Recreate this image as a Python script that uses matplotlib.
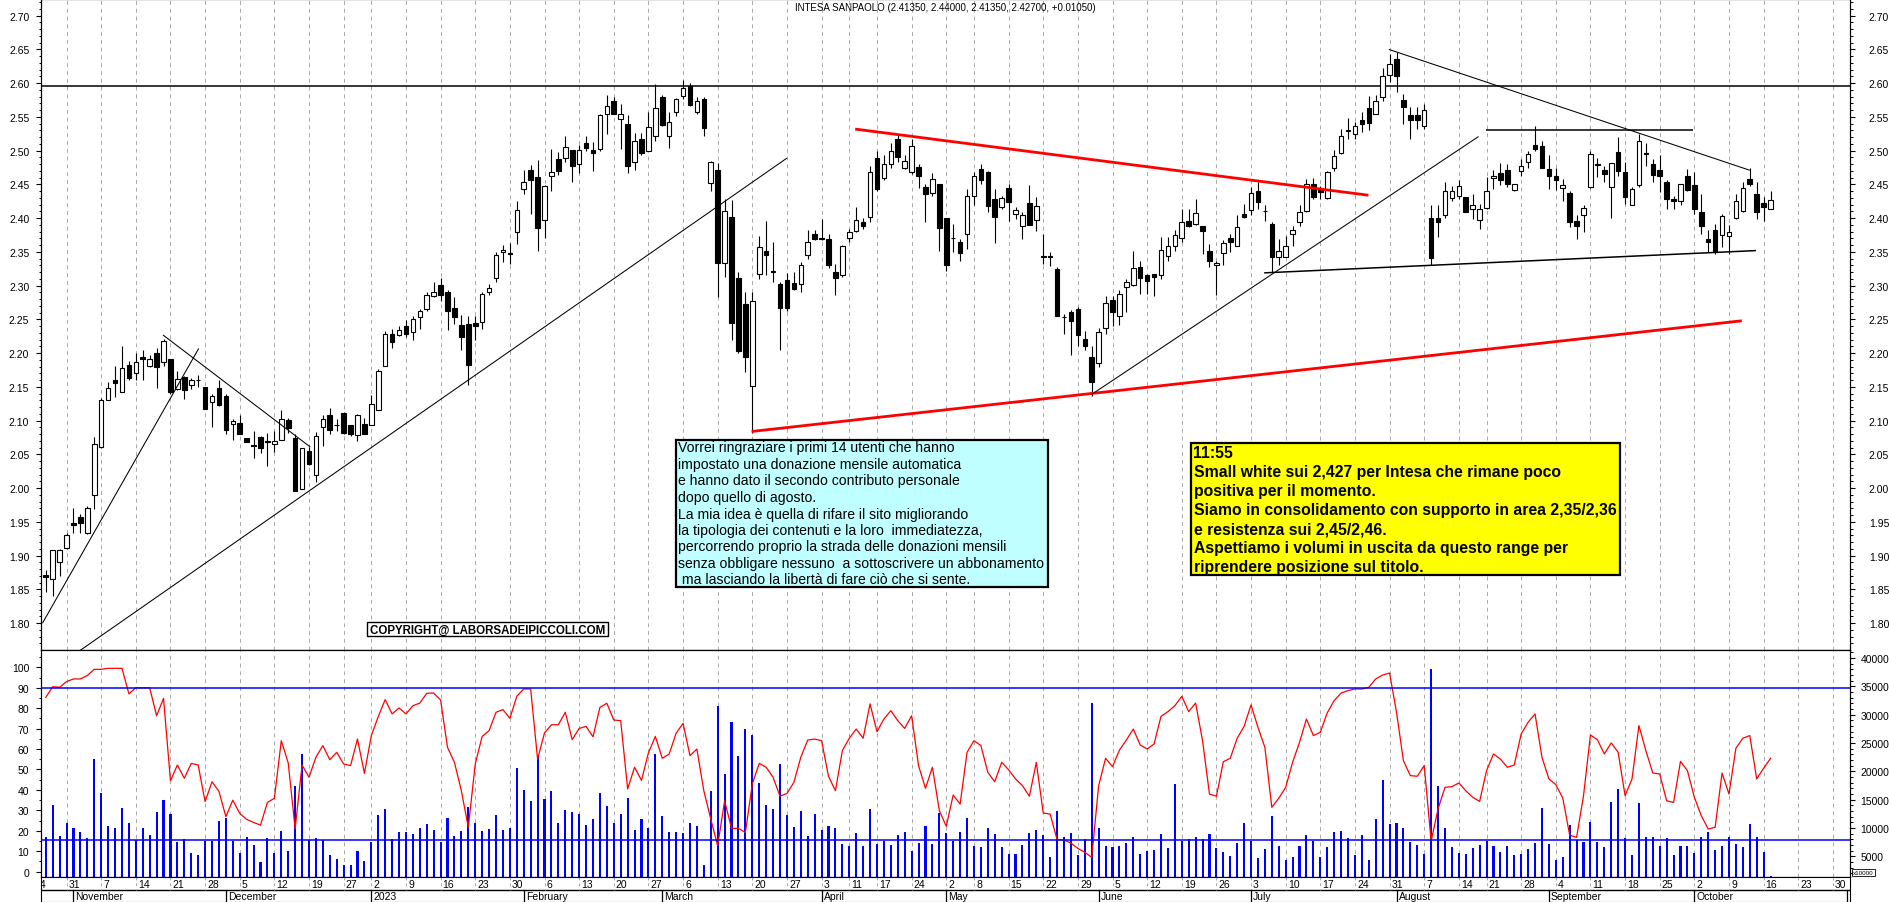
import matplotlib
matplotlib.use("Agg")
import matplotlib.pyplot as plt
import numpy as np
import pandas as pd
from matplotlib.patches import Rectangle
from matplotlib.ticker import FormatStrFormatter, MultipleLocator

plt.rcParams["font.family"] = ["Liberation Sans", "DejaVu Sans"]

# trading calendar of the chart (Borsa Italiana)
AXIS_START = "2022-10-24"
AXIS_END = "2023-11-10"
MARKET_HOLIDAYS = ["2022-12-26", "2023-04-07", "2023-04-10", "2023-05-01", "2023-08-15"]
FIRST_CANDLE = "2022-10-26"

OPEN = [
    1.871, 1.865, 1.891, 1.912, 1.948, 1.958, 1.933, 1.990, 2.061, 2.131,
    2.161, 2.143, 2.183, 2.171, 2.195, 2.181, 2.201, 2.187, 2.192, 2.147,
    2.165, 2.153, 2.161, 2.150, 2.128, 2.148, 2.137, 2.095, 2.097, 2.075,
    2.064, 2.076, 2.070, 2.066, 2.072, 2.101, 2.075, 1.999, 2.055, 2.020,
    2.090, 2.109, 2.094, 2.111, 2.093, 2.079, 2.095, 2.093, 2.116, 2.181,
    2.228, 2.227, 2.240, 2.231, 2.253, 2.266, 2.285, 2.301, 2.290, 2.267,
    2.242, 2.243, 2.245, 2.246, 2.291, 2.311, 2.350, 2.347, 2.379, 2.443,
    2.471, 2.461, 2.397, 2.462, 2.488, 2.489, 2.501, 2.480, 2.511, 2.501,
    2.502, 2.555, 2.573, 2.547, 2.540, 2.483, 2.518, 2.500, 2.522, 2.579,
    2.522, 2.557, 2.581, 2.596, 2.557, 2.577, 2.452, 2.472, 2.333, 2.402,
    2.311, 2.273, 2.152, 2.317, 2.351, 2.322, 2.303, 2.308, 2.304, 2.302,
    2.345, 2.377, 2.370, 2.369, 2.320, 2.316, 2.371, 2.381, 2.395, 2.402,
    2.489, 2.460, 2.480, 2.518, 2.474, 2.469, 2.476, 2.446, 2.437, 2.450,
    2.400, 2.371, 2.364, 2.376, 2.433, 2.473, 2.469, 2.428, 2.416, 2.445,
    2.406, 2.388, 2.4225, 2.397, 2.344, 2.344, 2.325, 2.254, 2.261, 2.265,
    2.221, 2.194, 2.185, 2.237, 2.279, 2.255, 2.298, 2.301, 2.328, 2.316,
    2.317, 2.316, 2.344, 2.359, 2.371, 2.396, 2.392, 2.389, 2.351, 2.330,
    2.349, 2.371, 2.359, 2.406, 2.412, 2.440, 2.411, 2.391, 2.342, 2.342,
    2.377, 2.394, 2.411, 2.451, 2.444, 2.430, 2.475, 2.496, 2.529, 2.525,
    2.545, 2.563, 2.555, 2.580, 2.612, 2.636, 2.575, 2.553, 2.553, 2.537,
    2.401, 2.401, 2.404, 2.430, 2.433, 2.431, 2.413, 2.397, 2.415, 2.459,
    2.467, 2.472, 2.442, 2.470, 2.483, 2.508, 2.507, 2.473, 2.462, 2.444,
    2.437, 2.396, 2.405, 2.446, 2.480, 2.472, 2.446, 2.498, 2.468, 2.420,
    2.449, 2.497, 2.480, 2.471, 2.453, 2.429, 2.426, 2.463, 2.449, 2.409,
    2.369, 2.382, 2.375, 2.373, 2.401, 2.410, 2.458, 2.436, 2.422, 2.4135,
]
HIGH = [
    1.879, 1.908, 1.910, 1.934, 1.970, 1.962, 1.973, 2.076, 2.134, 2.157,
    2.181, 2.210, 2.188, 2.200, 2.205, 2.198, 2.207, 2.221, 2.192, 2.174,
    2.166, 2.163, 2.167, 2.150, 2.139, 2.160, 2.140, 2.102, 2.109, 2.075,
    2.085, 2.078, 2.082, 2.085, 2.116, 2.104, 2.080, 2.059, 2.061, 2.083,
    2.109, 2.119, 2.102, 2.113, 2.094, 2.110, 2.104, 2.138, 2.177, 2.233,
    2.236, 2.240, 2.249, 2.255, 2.266, 2.291, 2.305, 2.312, 2.293, 2.283,
    2.256, 2.255, 2.255, 2.290, 2.302, 2.350, 2.361, 2.363, 2.425, 2.471,
    2.479, 2.486, 2.449, 2.503, 2.498, 2.522, 2.501, 2.509, 2.522, 2.513,
    2.555, 2.583, 2.579, 2.569, 2.553, 2.526, 2.526, 2.558, 2.599, 2.582,
    2.557, 2.578, 2.604, 2.601, 2.579, 2.579, 2.485, 2.482, 2.429, 2.427,
    2.320, 2.290, 2.290, 2.373, 2.396, 2.365, 2.305, 2.319, 2.320, 2.335,
    2.383, 2.382, 2.399, 2.377, 2.332, 2.360, 2.384, 2.416, 2.400, 2.478,
    2.500, 2.493, 2.512, 2.525, 2.493, 2.518, 2.480, 2.451, 2.467, 2.451,
    2.400, 2.391, 2.369, 2.443, 2.468, 2.481, 2.470, 2.443, 2.433, 2.451,
    2.416, 2.409, 2.449, 2.431, 2.377, 2.350, 2.327, 2.258, 2.264, 2.268,
    2.233, 2.210, 2.238, 2.284, 2.285, 2.293, 2.310, 2.352, 2.336, 2.317,
    2.317, 2.372, 2.372, 2.383, 2.414, 2.414, 2.428, 2.389, 2.362, 2.337,
    2.367, 2.377, 2.404, 2.421, 2.446, 2.454, 2.420, 2.395, 2.369, 2.374,
    2.389, 2.419, 2.458, 2.460, 2.448, 2.470, 2.501, 2.532, 2.548, 2.543,
    2.557, 2.581, 2.582, 2.622, 2.643, 2.646, 2.584, 2.565, 2.564, 2.569,
    2.419, 2.419, 2.454, 2.448, 2.456, 2.431, 2.436, 2.421, 2.461, 2.472,
    2.482, 2.480, 2.451, 2.488, 2.500, 2.536, 2.515, 2.493, 2.475, 2.458,
    2.441, 2.404, 2.420, 2.500, 2.489, 2.478, 2.482, 2.520, 2.483, 2.446,
    2.525, 2.512, 2.488, 2.493, 2.456, 2.433, 2.451, 2.473, 2.468, 2.436,
    2.382, 2.392, 2.406, 2.390, 2.436, 2.453, 2.474, 2.453, 2.431, 2.440,
]
LOW = [
    1.846, 1.841, 1.870, 1.910, 1.934, 1.934, 1.932, 1.969, 2.060, 2.131,
    2.135, 2.143, 2.160, 2.161, 2.161, 2.179, 2.149, 2.181, 2.140, 2.146,
    2.132, 2.147, 2.150, 2.117, 2.090, 2.122, 2.080, 2.072, 2.080, 2.068,
    2.045, 2.052, 2.033, 2.054, 2.072, 2.082, 1.996, 1.999, 2.035, 2.009,
    2.062, 2.080, 2.085, 2.080, 2.077, 2.070, 2.080, 2.093, 2.116, 2.181,
    2.207, 2.225, 2.224, 2.220, 2.236, 2.263, 2.283, 2.278, 2.234, 2.243,
    2.205, 2.153, 2.220, 2.236, 2.286, 2.306, 2.335, 2.332, 2.362, 2.436,
    2.406, 2.352, 2.370, 2.440, 2.464, 2.483, 2.453, 2.467, 2.500, 2.470,
    2.500, 2.525, 2.554, 2.503, 2.467, 2.471, 2.494, 2.499, 2.515, 2.536,
    2.504, 2.552, 2.576, 2.566, 2.554, 2.522, 2.440, 2.283, 2.313, 2.220,
    2.200, 2.172, 2.082, 2.310, 2.316, 2.306, 2.205, 2.263, 2.293, 2.290,
    2.340, 2.367, 2.367, 2.326, 2.286, 2.313, 2.364, 2.379, 2.384, 2.394,
    2.441, 2.456, 2.475, 2.483, 2.473, 2.466, 2.444, 2.395, 2.433, 2.352,
    2.322, 2.350, 2.337, 2.354, 2.419, 2.451, 2.409, 2.363, 2.414, 2.396,
    2.399, 2.369, 2.390, 2.381, 2.332, 2.329, 2.255, 2.229, 2.198, 2.210,
    2.205, 2.136, 2.179, 2.228, 2.241, 2.242, 2.261, 2.299, 2.287, 2.287,
    2.285, 2.310, 2.337, 2.352, 2.364, 2.387, 2.390, 2.347, 2.327, 2.286,
    2.331, 2.350, 2.359, 2.401, 2.405, 2.414, 2.396, 2.320, 2.330, 2.342,
    2.359, 2.389, 2.409, 2.429, 2.429, 2.429, 2.470, 2.495, 2.517, 2.517,
    2.527, 2.530, 2.554, 2.574, 2.602, 2.587, 2.540, 2.517, 2.532, 2.532,
    2.331, 2.372, 2.401, 2.426, 2.428, 2.409, 2.399, 2.384, 2.414, 2.443,
    2.449, 2.446, 2.441, 2.463, 2.475, 2.500, 2.474, 2.443, 2.442, 2.426,
    2.387, 2.369, 2.379, 2.444, 2.461, 2.454, 2.401, 2.463, 2.421, 2.419,
    2.446, 2.478, 2.453, 2.439, 2.414, 2.414, 2.419, 2.441, 2.406, 2.377,
    2.350, 2.347, 2.357, 2.347, 2.399, 2.409, 2.447, 2.399, 2.396, 2.4135,
]
CLOSE = [
    1.868, 1.908, 1.908, 1.931, 1.946, 1.948, 1.970, 2.066, 2.131, 2.149,
    2.156, 2.178, 2.163, 2.187, 2.192, 2.192, 2.179, 2.218, 2.142, 2.162,
    2.146, 2.161, 2.160, 2.117, 2.136, 2.123, 2.086, 2.099, 2.080, 2.068,
    2.063, 2.060, 2.068, 2.070, 2.102, 2.089, 1.996, 2.059, 2.036, 2.077,
    2.102, 2.086, 2.093, 2.082, 2.081, 2.109, 2.080, 2.125, 2.173, 2.229,
    2.217, 2.234, 2.228, 2.250, 2.262, 2.286, 2.290, 2.286, 2.263, 2.253,
    2.224, 2.182, 2.240, 2.288, 2.297, 2.345, 2.353, 2.347, 2.412, 2.454,
    2.457, 2.385, 2.448, 2.469, 2.470, 2.505, 2.478, 2.501, 2.504, 2.497,
    2.553, 2.566, 2.555, 2.554, 2.478, 2.515, 2.497, 2.535, 2.563, 2.538,
    2.543, 2.577, 2.593, 2.567, 2.573, 2.533, 2.483, 2.333, 2.411, 2.245,
    2.203, 2.195, 2.278, 2.357, 2.345, 2.321, 2.267, 2.267, 2.295, 2.330,
    2.365, 2.369, 2.369, 2.330, 2.311, 2.359, 2.379, 2.397, 2.389, 2.469,
    2.443, 2.480, 2.499, 2.491, 2.485, 2.507, 2.463, 2.436, 2.458, 2.386,
    2.330, 2.370, 2.348, 2.433, 2.463, 2.457, 2.418, 2.402, 2.430, 2.424,
    2.412, 2.404, 2.390, 2.418, 2.342, 2.343, 2.255, 2.253, 2.247, 2.227,
    2.211, 2.158, 2.232, 2.274, 2.261, 2.288, 2.305, 2.326, 2.312, 2.307,
    2.313, 2.353, 2.359, 2.375, 2.395, 2.388, 2.407, 2.381, 2.337, 2.333,
    2.363, 2.365, 2.387, 2.402, 2.438, 2.424, 2.410, 2.342, 2.351, 2.359,
    2.382, 2.409, 2.451, 2.432, 2.439, 2.469, 2.492, 2.522, 2.531, 2.536,
    2.539, 2.541, 2.574, 2.610, 2.629, 2.610, 2.564, 2.546, 2.546, 2.560,
    2.341, 2.395, 2.440, 2.441, 2.447, 2.409, 2.420, 2.413, 2.441, 2.462,
    2.457, 2.450, 2.451, 2.478, 2.495, 2.503, 2.474, 2.462, 2.456, 2.449,
    2.394, 2.388, 2.415, 2.495, 2.479, 2.465, 2.482, 2.470, 2.431, 2.443,
    2.515, 2.495, 2.464, 2.462, 2.428, 2.425, 2.451, 2.442, 2.414, 2.388,
    2.364, 2.352, 2.403, 2.379, 2.426, 2.444, 2.450, 2.409, 2.4165, 2.427,
]
OSCILLATOR = [
    85.3, 90.5, 90.2, 93.0, 94.3, 94.3, 96.0, 99.0, 99.0, 99.5,
    99.5, 99.5, 87.0, 90.0, 90.0, 90.0, 76.3, 84.8, 44.5, 52.2,
    45.7, 53.0, 52.2, 34.3, 44.0, 39.3, 26.9, 35.0, 28.5, 25.6,
    24.1, 22.8, 33.9, 35.9, 64.1, 53.2, 21.0, 52.2, 46.2, 56.0,
    61.7, 54.8, 58.4, 52.7, 51.9, 64.9, 48.1, 66.6, 75.9, 84.2,
    77.2, 80.1, 77.2, 81.2, 82.5, 87.3, 87.4, 84.0, 60.8, 53.5,
    39.5, 21.7, 52.7, 66.2, 69.0, 78.0, 79.3, 75.0, 85.8, 89.4,
    89.4, 55.1, 67.9, 71.9, 71.9, 78.0, 64.6, 70.1, 71.1, 66.0,
    80.4, 82.4, 74.2, 73.9, 40.5, 51.1, 44.7, 58.1, 66.2, 55.5,
    57.6, 67.7, 72.6, 56.8, 60.0, 39.6, 25.8, 12.7, 34.7, 21.2,
    21.2, 19.2, 42.9, 53.0, 51.1, 46.2, 36.9, 38.3, 43.7, 56.0,
    64.4, 64.9, 64.1, 46.7, 39.6, 59.2, 65.3, 69.8, 65.3, 82.1,
    68.5, 74.7, 78.8, 73.9, 70.1, 76.3, 51.9, 40.8, 51.1, 29.9,
    22.2, 37.5, 33.1, 58.4, 64.1, 61.7, 48.6, 44.0, 53.5, 49.9,
    45.4, 42.1, 36.9, 53.5, 28.7, 28.2, 15.7, 15.5, 14.0, 11.4,
    9.5, 7.0, 42.1, 55.5, 51.4, 59.5, 64.4, 69.8, 62.0, 60.0,
    62.5, 76.0, 78.3, 81.2, 85.8, 78.3, 82.5, 64.1, 38.0, 36.9,
    53.8, 55.5, 65.3, 71.1, 81.6, 70.6, 60.8, 31.5, 35.9, 41.3,
    53.5, 63.3, 74.7, 66.6, 68.2, 77.7, 83.7, 87.4, 88.6, 89.4,
    89.4, 90.2, 94.3, 96.2, 97.2, 78.0, 54.3, 47.0, 46.7, 51.9,
    15.0, 30.7, 41.3, 41.6, 43.4, 39.6, 36.4, 34.4, 49.4, 57.6,
    55.1, 51.1, 52.2, 67.4, 73.1, 77.2, 56.0, 45.4, 42.6, 36.1,
    17.9, 16.8, 37.2, 66.9, 64.6, 57.6, 63.0, 58.4, 37.2, 45.4,
    71.5, 59.2, 48.3, 47.8, 34.7, 33.9, 54.0, 49.4, 36.4, 27.4,
    20.9, 21.7, 48.3, 38.0, 60.4, 65.3, 66.6, 45.4, 50.6, 55.5,
]
VOLUME = [
    8350, 14060, 8530, 10880, 10000, 9230, 8170, 22170, 16110, 10290,
    9940, 13470, 10880, 7820, 10000, 8760, 12760, 14880, 12470, 7530,
    8000, 5590, 5300, 7700, 7760, 11230, 11700, 7700, 5530, 8350,
    7060, 3940, 8290, 5650, 9470, 5880, 17470, 23060, 7820, 8290,
    7820, 5170, 4530, 3470, 3470, 5880, 4180, 7470, 12350, 13290,
    8060, 9290, 9230, 8880, 10000, 10650, 9640, 7470, 11700, 8640,
    9470, 13640, 10880, 9470, 9820, 12230, 9640, 9940, 20590, 16700,
    14700, 22770, 15120, 16590, 10940, 13240, 12820, 12470, 10590, 11590,
    16170, 13820, 10820, 12470, 15240, 9590, 11530, 10000, 23060, 12060,
    9350, 9230, 9120, 10880, 10290, 3470, 16530, 31590, 19530, 28650,
    22650, 27470, 26410, 17940, 14060, 13350, 21290, 12290, 10120, 13000,
    8640, 12410, 9700, 10290, 9940, 7170, 6760, 9120, 6760, 13350,
    7170, 7760, 7000, 8760, 9230, 5940, 7350, 10350, 7170, 12640,
    9060, 7760, 9290, 11760, 6880, 6590, 10000, 8880, 6590, 5410,
    5410, 7000, 9120, 9640, 8760, 4820, 13000, 8350, 9120, 5230,
    8060, 32060, 10000, 6880, 6590, 6880, 7410, 8350, 5410, 6000,
    6120, 8940, 6470, 17760, 7640, 8060, 8350, 8060, 8940, 6410,
    5820, 5110, 7350, 10880, 7640, 4700, 6290, 12060, 6880, 4350,
    4940, 6880, 8760, 7640, 4940, 6590, 9350, 9470, 8230, 5230,
    8760, 4410, 11590, 18470, 10710, 10880, 10000, 7470, 7060, 5410,
    38060, 17470, 10000, 6590, 5590, 5410, 6410, 7060, 7760, 6760,
    5820, 6760, 5230, 5410, 6290, 7350, 13470, 7170, 4350, 4940,
    10530, 7880, 7470, 11120, 7470, 6700, 14650, 16880, 8230, 5230,
    14410, 8470, 8470, 6760, 8230, 5230, 6760, 6760, 5590, 8350,
    9230, 6120, 6880, 8350, 7170, 6590, 10710, 8350, 5700, 1500,
]

# oscillator reference levels
OSC_LEVELS = [90, 15.4]
RESISTANCE = 2.596

# drawn trend lines: (trading-day index, price) -> (trading-day index, price)
TREND_LINES = [
    ((1.52, 1.800), (24.08, 2.207), "black", 0.75),
    ((18.92, 2.227), (40.19, 2.061), "black", 0.75),
    ((7.0, 1.760), (109.0, 2.489), "black", 0.75),
    ((118.85, 2.532), (192.94, 2.434), "red", 2.0),
    ((103.9, 2.084), (246.85, 2.248), "red", 2.0),
    ((153.0, 2.139), (208.85, 2.521), "black", 0.75),
    ((177.9, 2.319), (248.9, 2.352), "black", 1.1),
    ((209.9, 2.530), (239.8, 2.530), "black", 1.1),
    ((195.9, 2.650), (248.0, 2.471), "black", 0.75),
]

TITLE = "INTESA SANPAOLO (2.41350, 2.44000, 2.41350, 2.42700, +0.01050)"
MONTH_LABELS = {11: "November", 12: "December", 1: "2023", 2: "February", 3: "March",
                4: "April", 5: "May", 6: "June", 7: "July", 8: "August",
                9: "September", 10: "October"}

NOTE_LINES = [
    "Vorrei ringraziare i primi 14 utenti che hanno",
    "impostato una donazione mensile automatica",
    "e hanno dato il secondo contributo personale",
    "dopo quello di agosto.",
    "La mia idea è quella di rifare il sito migliorando",
    "la tipologia dei contenuti e la loro  immediatezza,",
    "percorrendo proprio la strada delle donazioni mensili",
    "senza obbligare nessuno  a sottoscrivere un abbonamento",
    " ma lasciando la libertà di fare ciò che si sente.",
]
COMMENT_LINES = [
    "11:55",
    "Small white sui 2,427 per Intesa che rimane poco",
    "positiva per il momento.",
    "Siamo in consolidamento con supporto in area 2,35/2,36",
    "e resistenza sui 2,45/2,46.",
    "Aspettiamo i volumi in uscita da questo range per",
    "riprendere posizione sul titolo.",
]
COPYRIGHT = "COPYRIGHT@ LABORSADEIPICCOLI.COM"

W_PX, H_PX = 1890, 903


def fig_box(x0, y0, x1, y1):
    return [x0 / W_PX, 1 - y1 / H_PX, (x1 - x0) / W_PX, (y1 - y0) / H_PX]


def fx(x):
    return x / W_PX


def fy(y):
    return 1 - y / H_PX


def main():
    days = pd.bdate_range(AXIS_START, AXIS_END)
    days = days[~days.isin(pd.to_datetime(MARKET_HOLIDAYS))]
    first = days.get_loc(pd.Timestamp(FIRST_CANDLE))
    x = np.arange(first, first + len(OPEN))

    xlim = (1.31, 262.47)
    week_starts = [i for i in range(len(days)) if i == 0 or days[i].weekday() < days[i - 1].weekday()]
    month_starts = [i for i in range(1, len(days)) if days[i].month != days[i - 1].month]

    grid_kw = dict(color="#a8a8a8", lw=0.7, ls=(0, (4, 4)), zorder=0)

    fig = plt.figure(figsize=(W_PX / 100, H_PX / 100), dpi=100)
    fig.patch.set_facecolor("white")

    # price panel
    ax = fig.add_axes(fig_box(41, 0, 1850, 651))
    ax.set_xlim(*xlim)
    ax.set_ylim(1.7603, 2.7247)
    for i in week_starts:
        ax.axvline(i, **grid_kw)
    ax.axhline(RESISTANCE, color="black", lw=1.1, zorder=2)

    o, h, l, c = (np.array(v) for v in (OPEN, HIGH, LOW, CLOSE))
    up = c >= o
    body = np.maximum(np.abs(c - o), 0.0009)
    ax.vlines(x, l, h, color="black", lw=0.8, zorder=3)
    ax.bar(x[up], body[up], bottom=o[up], width=0.66, facecolor="white",
           edgecolor="black", lw=0.8, zorder=4)
    ax.bar(x[~up], body[~up], bottom=c[~up], width=0.66, facecolor="black",
           edgecolor="black", lw=0.8, zorder=4)

    for (x0, y0), (x1, y1), color, lw in TREND_LINES:
        ax.plot([x0, x1], [y0, y1], color=color, lw=lw, zorder=5, solid_capstyle="butt")

    ax.set_xticks([])
    ax.yaxis.set_major_locator(MultipleLocator(0.05))
    ax.yaxis.set_minor_locator(MultipleLocator(0.01))
    ax.yaxis.set_major_formatter(FormatStrFormatter("%.2f"))
    ax.tick_params(axis="y", which="major", length=3.5, width=0.8, labelsize=7.5, pad=5)
    ax.tick_params(axis="y", which="minor", length=1.8, width=0.7)

    axr = ax.twinx()
    axr.set_ylim(ax.get_ylim())
    axr.yaxis.set_major_locator(MultipleLocator(0.05))
    axr.yaxis.set_minor_locator(MultipleLocator(0.01))
    axr.yaxis.set_major_formatter(FormatStrFormatter("%.2f"))
    axr.tick_params(axis="y", which="major", length=3.5, width=0.8, labelsize=7.5, pad=10)
    axr.tick_params(axis="y", which="minor", length=1.8, width=0.7)

    # volume + oscillator panel
    axv = fig.add_axes(fig_box(41, 651, 1850, 878))
    axv.set_xlim(*xlim)
    axv.set_ylim(1341, 41407)
    for i in week_starts:
        axv.axvline(i, **grid_kw)
    axv.bar(x, VOLUME, width=0.3, color="#0000ff", zorder=2)
    axv.set_xticks([])

    axo = axv.twinx()
    axo.set_ylim(-2.59, 108.46)
    axo.plot(x, OSCILLATOR, color="red", lw=0.9, zorder=3)
    for level in OSC_LEVELS:
        axo.axhline(level, color="#0000ff", lw=1.1, zorder=4)

    # twinx moves the host ticks to the left, so place both sides afterwards
    axo.yaxis.tick_left()
    axv.yaxis.tick_right()
    axv.set_yticks(range(5000, 40001, 5000))
    axv.yaxis.set_minor_locator(MultipleLocator(1000))
    axv.tick_params(axis="y", which="major", length=3.5, width=0.8, labelsize=7.5, pad=4)
    axv.tick_params(axis="y", which="minor", length=1.8, width=0.7)
    axo.set_yticks(range(0, 101, 10))
    axo.yaxis.set_minor_locator(MultipleLocator(5))
    axo.tick_params(axis="y", which="major", length=3.5, width=0.8, labelsize=7.5, pad=5)
    axo.tick_params(axis="y", which="minor", length=1.8, width=0.7)

    fig.text(fx(1853), fy(873.5), "x10000", fontsize=4.5, va="center", ha="left",
             bbox=dict(boxstyle="square,pad=0.15", facecolor="white", edgecolor="black", lw=0.6))

    # date band
    axd = fig.add_axes(fig_box(41, 878, 1850, 903))
    axd.set_xlim(*xlim)
    axd.set_ylim(25, 0)
    axd.set_xticks([])
    axd.set_yticks([])
    axd.axhline(13, color="black", lw=1.0)
    for i in week_starts:
        axd.plot([i, i], [0, 13], color="#a8a8a8", lw=0.7, ls=(0, (3, 3)))
        axd.text(i + 0.3, 6.8, str(days[i].day), fontsize=7.5, ha="left", va="center", clip_on=True)
    for i in month_starts:
        axd.plot([i, i], [13, 25], color="black", lw=0.9)
        if i + 6 < xlim[1]:
            axd.text(i + 0.3, 19.5, MONTH_LABELS[days[i].month], fontsize=7.5,
                     ha="left", va="center", clip_on=True)

    # title
    fig.text(fx(945), fy(8), TITLE, fontsize=7, ha="center", va="center")

    # note box (cyan)
    fig.patches.append(Rectangle((fx(676), fy(588)), fx(1048) - fx(676), fy(441) - fy(588),
                                 transform=fig.transFigure, facecolor="#c0ffff",
                                 edgecolor="black", lw=1.6, zorder=6))
    for k, line in enumerate(NOTE_LINES):
        fig.text(fx(678.5), fy(448.5 + 16.5 * k), line, fontsize=10.1, ha="left",
                 va="center", zorder=7)

    # comment box (yellow)
    fig.patches.append(Rectangle((fx(1191), fy(576)), fx(1620) - fx(1191), fy(444) - fy(576),
                                 transform=fig.transFigure, facecolor="#ffff00",
                                 edgecolor="black", lw=1.6, zorder=6))
    for k, line in enumerate(COMMENT_LINES):
        fig.text(fx(1193.5), fy(454 + 18.9 * k), line, fontsize=11.3, fontweight="bold",
                 ha="left", va="center", zorder=7)

    # copyright box
    fig.patches.append(Rectangle((fx(367), fy(637)), fx(608) - fx(367), fy(623) - fy(637),
                                 transform=fig.transFigure, facecolor="white",
                                 edgecolor="black", lw=1.0, zorder=6))
    fig.text(fx(487.5), fy(630.5), COPYRIGHT, fontsize=8.3, fontweight="bold",
             ha="center", va="center", zorder=7)

    fig.savefig("out.png", dpi=100)
    plt.close(fig)


if __name__ == "__main__":
    main()
